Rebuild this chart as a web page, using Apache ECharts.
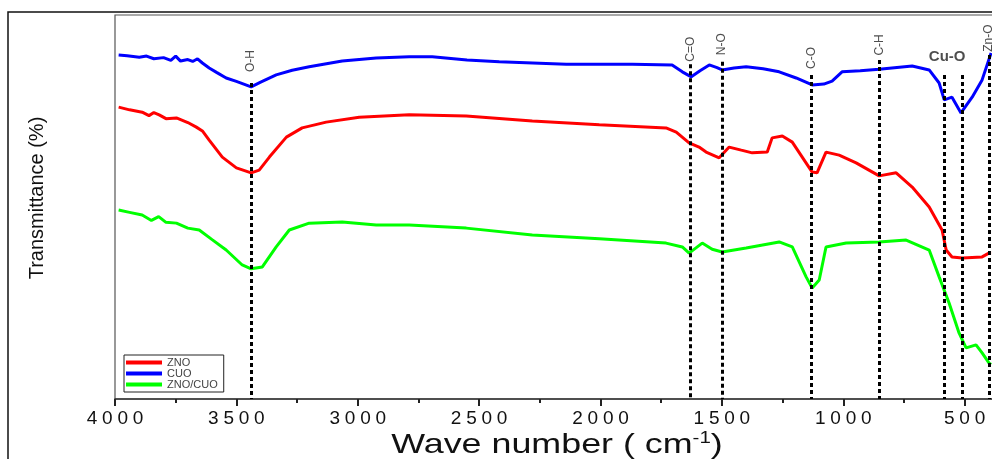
<!DOCTYPE html>
<html>
<head>
<meta charset="utf-8">
<script src="https://cdn.jsdelivr.net/npm/echarts@6/dist/echarts.min.js"></script>
<style>
  html, body { margin: 0; padding: 0; background: #fff; }
  #chart { width: 992px; height: 459px; }
</style>
</head>
<body>
<div id="chart"></div>
<script>
// FTIR spectra, [wave number (cm-1), transmittance (a.u.)]
const cuoData = [
  [3985, 89.6], [3950, 89.4], [3900, 89.0], [3870, 89.3], [3840, 88.6], [3800, 88.9],
  [3770, 88.2], [3750, 89.3], [3730, 88.0], [3700, 88.4], [3680, 87.9], [3660, 88.6],
  [3640, 87.5], [3612, 86.2], [3580, 85.0], [3542, 83.6], [3500, 82.7], [3439, 81.3],
  [3400, 82.5], [3336, 84.4], [3270, 85.6], [3200, 86.5], [3064, 88.0], [2924, 88.8],
  [2788, 89.1], [2693, 89.1], [2550, 88.3], [2417, 87.8], [2141, 87.2], [1869, 87.2],
  [1705, 87.0], [1663, 85.2], [1626, 83.9], [1590, 85.5], [1552, 87.0], [1520, 86.3],
  [1499, 85.7], [1450, 86.2], [1400, 86.5], [1330, 86.0], [1264, 85.2], [1194, 83.6],
  [1128, 81.8], [1080, 82.0], [1046, 82.8], [1005, 85.2], [930, 85.5], [852, 85.9],
  [716, 86.7], [646, 85.7], [605, 82.3], [584, 77.9], [552, 78.6], [515, 74.5],
  [469, 78.6], [428, 83.1], [391, 90.1]
];
const znoData = [
  [3985, 76.0], [3940, 75.3], [3888, 74.7], [3860, 73.8], [3840, 74.6], [3818, 74.0],
  [3790, 73.0], [3747, 73.2], [3700, 72.0], [3665, 70.8], [3640, 69.8], [3612, 67.4],
  [3558, 63.0], [3500, 60.2], [3439, 58.9], [3406, 59.6], [3364, 63.0], [3294, 68.2],
  [3229, 70.6], [3130, 72.1], [2994, 73.4], [2788, 74.0], [2553, 73.7], [2281, 72.4],
  [2005, 71.4], [1730, 70.6], [1688, 69.5], [1635, 66.7], [1594, 65.6], [1565, 64.3],
  [1511, 62.8], [1470, 65.6], [1420, 64.8], [1375, 64.1], [1313, 64.3], [1293, 68.0],
  [1251, 68.5], [1210, 66.9], [1169, 63.0], [1128, 59.1], [1108, 58.9], [1071, 64.3],
  [1017, 63.5], [947, 61.5], [852, 58.1], [782, 58.9], [716, 55.2], [646, 50.0],
  [593, 44.0], [576, 38.8], [552, 37.0], [510, 36.7], [428, 37.0], [400, 38.0], [391, 38.0]
];
const znoCuoData = [
  [3985, 49.2], [3940, 48.6], [3888, 47.9], [3850, 46.5], [3820, 47.5], [3790, 46.0],
  [3747, 45.8], [3700, 44.5], [3653, 44.0], [3600, 41.5], [3542, 38.8], [3476, 34.9],
  [3439, 33.9], [3393, 34.4], [3336, 39.6], [3282, 44.0], [3200, 45.8], [3064, 46.1],
  [2924, 45.3], [2788, 45.3], [2553, 44.5], [2281, 42.7], [2005, 41.7], [1730, 40.6],
  [1663, 39.6], [1635, 38.0], [1581, 40.6], [1540, 39.0], [1499, 38.3], [1400, 39.3],
  [1264, 40.9], [1210, 39.6], [1153, 31.8], [1128, 28.9], [1099, 31.0], [1071, 39.6],
  [988, 40.6], [852, 40.9], [741, 41.4], [646, 38.8], [605, 31.8], [564, 25.0],
  [523, 17.2], [494, 13.3], [453, 14.1], [428, 12.0], [400, 9.4], [391, 9.0]
];

// band assignments: position, top of dotted line, label height
const bandNames = ['O-H', 'C=O', 'N-O', 'C-O', 'C-H', '', '', 'Zn-O'];
const bandPos = [3440, 1630, 1500, 1130, 850, 582, 510, 400];
const bandTop = [82.3, 87.2, 87.8, 84.4, 88.3, 84.4, 84.4, 89.6];
const bandLabelY = [88.0, 91.1, 92.4, 88.8, 92.2, 0, 0, 94.0];
const cuoLabel = { name: 'Cu-O', pos: 572, y: 89.1 };

const chart = echarts.init(document.getElementById('chart'));

const bandLines = bandPos.map((p, i) => [{ coord: [p, bandTop[i]] }, { coord: [p, 0] }]);
const bandLabels = bandPos
  .map((p, i) => ({ name: bandNames[i], value: [p, bandLabelY[i]] }))
  .filter(d => d.name);

const spaced = v => String(v).split('').join('\u2005');

chart.setOption({
  animation: false,
  grid: {
    left: 115, top: 15, width: 971, height: 384,
    outerBoundsMode: 'none',
    containLabel: false,
    show: true, borderColor: '#555', borderWidth: 1.2
  },
  legend: {
    orient: 'vertical',
    left: 124, top: 355,
    data: ['ZNO', 'CUO', 'ZNO/CUO'],
    icon: 'rect',
    itemWidth: 36, itemHeight: 4, itemGap: 0,
    padding: [2, 6, 2, 2],
    borderColor: '#222', borderWidth: 1,
    textStyle: { fontFamily: 'Liberation Sans, Arial', fontSize: 11, lineHeight: 10, color: '#444' }
  },
  xAxis: {
    type: 'value',
    inverse: true,
    min: 0, max: 4000, interval: 500,
    axisLine: { show: true, lineStyle: { color: '#333', width: 1.5 } },
    axisTick: { show: true, length: 7, lineStyle: { color: '#222', width: 2 } },
    minorTick: { show: true, splitNumber: 2, length: 4, lineStyle: { color: '#222', width: 2 } },
    splitLine: { show: false },
    axisLabel: {
      margin: 10,
      fontFamily: 'Liberation Sans, Arial',
      fontSize: 19,
      color: '#111',
      formatter: v => (v === 0 ? '' : spaced(v))
    }
  },
  yAxis: {
    type: 'value',
    min: 0, max: 100,
    axisLine: { show: true, lineStyle: { color: '#333', width: 1.5 } },
    axisTick: { show: false },
    axisLabel: { show: false },
    splitLine: { show: false }
  },
  graphic: [
    {
      type: 'rect', silent: true, z: -1,
      shape: { x: 8, y: 12, width: 1000, height: 470 },
      style: { fill: 'none', stroke: '#111', lineWidth: 1.5 }
    },
    {
      type: 'text', x: 557, y: 445, scaleX: 1.28,
      style: {
        text: '{a|Wave number ( cm}{s|-1}{a|)}',
        align: 'center', verticalAlign: 'middle',
        fill: '#111',
        rich: {
          a: { fontFamily: 'Liberation Sans, Arial', fontSize: 28, fill: '#111' },
          s: { fontFamily: 'Liberation Sans, Arial', fontSize: 16, fill: '#111', verticalAlign: 'top' }
        }
      }
    },
    {
      type: 'text', x: 37, y: 198, rotation: Math.PI / 2,
      style: {
        text: 'Transmittance (%)',
        align: 'center', verticalAlign: 'middle',
        fontFamily: 'Liberation Sans, Arial', fontSize: 20, fill: '#111'
      }
    }
  ],
  series: [
    {
      name: 'ZNO', type: 'line', data: znoData,
      showSymbol: false, symbol: 'none',
      lineStyle: { color: '#ff0000', width: 3 }, itemStyle: { color: '#ff0000' }
    },
    {
      name: 'CUO', type: 'line', data: cuoData,
      showSymbol: false, symbol: 'none',
      lineStyle: { color: '#0000ff', width: 3 }, itemStyle: { color: '#0000ff' },
      markLine: {
        silent: true, symbol: 'none',
        label: { show: false },
        lineStyle: { color: '#000', width: 3, type: [4, 3] },
        data: bandLines
      }
    },
    {
      name: 'ZNO/CUO', type: 'line', data: znoCuoData,
      showSymbol: false, symbol: 'none',
      lineStyle: { color: '#00ff00', width: 3 }, itemStyle: { color: '#00ff00' }
    },
    {
      type: 'scatter', silent: true, symbolSize: 0,
      data: bandLabels,
      label: {
        show: true, position: 'inside', rotate: 90,
        formatter: p => p.name,
        fontFamily: 'Liberation Sans, Arial', fontSize: 12, color: '#222'
      }
    },
    {
      type: 'scatter', silent: true, symbolSize: 0,
      data: [{ name: cuoLabel.name, value: [cuoLabel.pos, cuoLabel.y] }],
      label: {
        show: true, position: 'inside',
        formatter: p => p.name,
        fontFamily: 'Liberation Sans, Arial', fontSize: 15, fontWeight: 'bold', color: '#222'
      }
    }
  ]
});
</script>
</body>
</html>
